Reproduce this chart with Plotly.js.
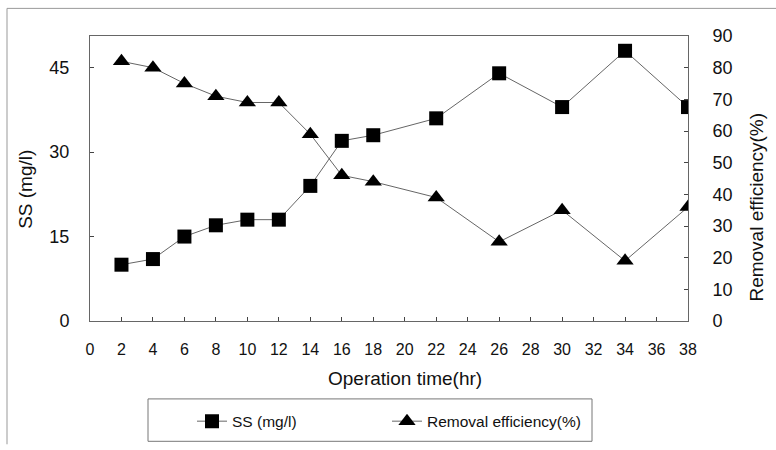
<!DOCTYPE html>
<html>
<head>
<meta charset="utf-8">
<script src="https://cdn.plot.ly/plotly-3.0.1.min.js"></script>
<style>
  html, body { margin: 0; padding: 0; background: #fff; }
  #chart { width: 776px; height: 450px; }
</style>
</head>
<body>
<div id="chart"></div>
<script>
// Data
var timeHr = [2, 4, 6, 8, 10, 12, 14, 16, 18, 22, 26, 30, 34, 38];
var ssMgL = [10, 11, 15, 17, 18, 18, 24, 32, 33, 36, 44, 38, 48, 38];
var removalPct = [82, 80, 75, 71, 69, 69, 59, 46, 44, 39, 25, 35, 19, 36];
var leftTicks = [0, 15, 30, 45];

var FONT = 'Arial, "Liberation Sans", sans-serif';

var traceSS = {
  x: timeHr, y: ssMgL, name: 'SS (mg/l)', type: 'scatter', mode: 'lines+markers',
  yaxis: 'y',
  line: { color: '#666', width: 1 },
  marker: { symbol: 'square', size: 14, color: '#000' }
};
var traceRE = {
  x: timeHr, y: removalPct, name: 'Removal efficiency(%)', type: 'scatter', mode: 'lines+markers',
  yaxis: 'y2',
  line: { color: '#666', width: 1 },
  marker: { symbol: 'triangle-up', size: 15, color: '#000' }
};

// plot area in pixels
var L = 90, R = 688, T = 36, B = 325;
function px(x) { return (x - L) / (R - L); }
function py(y) { return (B - y) / (B - T); }

var layout = {
  width: 776, height: 450,
  margin: { l: L, r: 776 - R, t: T, b: 450 - B, pad: 0 },
  paper_bgcolor: '#fff', plot_bgcolor: '#fff',
  font: { family: FONT, color: '#111', size: 16 },
  showlegend: true,
  legend: {
    orientation: 'h', x: px(192), xanchor: 'left', y: py(427), yanchor: 'middle',
    borderwidth: 0, bgcolor: 'rgba(0,0,0,0)',
    font: { family: FONT, size: 15.5, color: '#111' },
    itemwidth: 30, entrywidth: 150, entrywidthmode: 'pixels'
  },
  xaxis: {
    range: [0, 38], dtick: 2, tick0: 0,
    ticks: 'inside', ticklen: 4, tickcolor: '#444',
    showline: true, linecolor: '#666', linewidth: 1, mirror: true,
    showgrid: false, zeroline: false,
    tickfont: { family: FONT, size: 16, color: '#111' },
    ticklabelstandoff: 14,
    title: { text: '' }
  },
  yaxis: {
    range: [0, 50.625], tickvals: leftTicks,
    ticks: 'inside', ticklen: 4, tickcolor: '#444',
    showline: true, linecolor: '#666', linewidth: 1,
    showgrid: false, zeroline: false,
    tickfont: { family: FONT, size: 18, color: '#111' },
    ticklabelstandoff: 16,
    title: { text: '' }
  },
  yaxis2: {
    range: [0, 90], dtick: 10, tick0: 0,
    overlaying: 'y', side: 'right',
    ticks: 'inside', ticklen: 4, tickcolor: '#444',
    showline: true, linecolor: '#666', linewidth: 1,
    showgrid: false, zeroline: false,
    tickfont: { family: FONT, size: 18, color: '#111' },
    ticklabelstandoff: 20,
    title: { text: '' }
  },
  annotations: [
    { text: 'Operation time(hr)', xref: 'paper', yref: 'paper', x: px(405), y: py(383),
      xanchor: 'center', yanchor: 'middle', showarrow: false,
      font: { family: FONT, size: 19, color: '#111' } },
    { text: 'SS (mg/l)', xref: 'paper', yref: 'paper', x: px(26), y: py(192), textangle: -90,
      xanchor: 'center', yanchor: 'middle', showarrow: false,
      font: { family: FONT, size: 19, color: '#111' } },
    { text: 'Removal efficiency(%)', xref: 'paper', yref: 'paper', x: px(757), y: py(210), textangle: -90,
      xanchor: 'center', yanchor: 'middle', showarrow: false,
      font: { family: FONT, size: 19, color: '#111' } }
  ],
  shapes: [
    { type: 'line', xref: 'paper', yref: 'paper', x0: px(7), x1: px(776), y0: py(8), y1: py(8),
      line: { color: '#999', width: 1 } },
    { type: 'line', xref: 'paper', yref: 'paper', x0: px(7), x1: px(7), y0: py(8), y1: py(450),
      line: { color: '#999', width: 1 } },
    { type: 'rect', xref: 'paper', yref: 'paper', x0: px(148), x1: px(592), y0: py(404), y1: py(447),
      line: { color: '#777', width: 1 }, fillcolor: 'rgba(0,0,0,0)' }
  ]
};

Plotly.newPlot('chart', [traceSS, traceRE], layout, { staticPlot: true, displayModeBar: false });
</script>
</body>
</html>
